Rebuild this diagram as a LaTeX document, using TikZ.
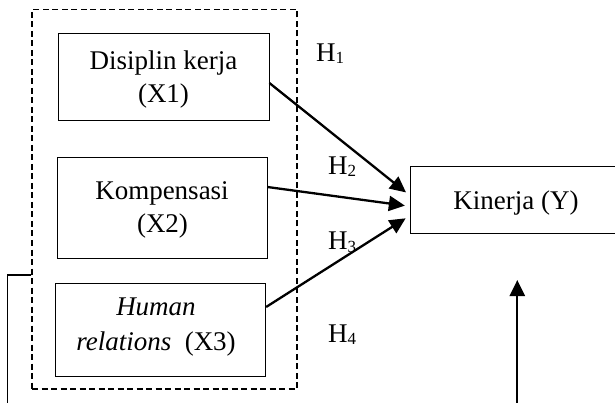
\documentclass[tikz,border=0pt]{standalone}
\usepackage{fontspec}
\setmainfont{Liberation Serif}
\usetikzlibrary{arrows.meta}
\newcommand\hsubscr[1]{\raisebox{-2pt}{\fontsize{17}{17}\selectfont #1}}
\begin{document}
\begin{tikzpicture}[x=1pt,y=-1pt,
  box/.style={draw, line width=0.8pt, inner sep=0pt},
  txt/.style={anchor=base, inner sep=0pt, font=\fontsize{27}{33}\selectfont},
  grp/.style={draw, dash pattern=on 6pt off 3.5pt, line width=1.4pt, inner sep=0pt},
  arr/.style={line width=2.3pt, -{Triangle[length=16pt,width=15pt]}},
  hlab/.style={anchor=base west, inner sep=0pt, font=\fontsize{27}{30}\selectfont},
  bline/.style={line width=1.5pt}]
\useasboundingbox (0,0) rectangle (615,403);
\node[grp, minimum width=265pt, minimum height=379.5pt] (grp) at (164.5,199.25) {};
\node[box, minimum width=210.5pt, minimum height=87pt] (x1) at (163.75,76.5) {};
\node[box, minimum width=210pt, minimum height=101pt] (x2) at (162,207.5) {};
\node[box, minimum width=210.7pt, minimum height=93pt] (x3) at (160.35,329.5) {};
\node[box, minimum width=206pt, minimum height=66.3pt] (y) at (513.7,199.85) {};
\node[txt] (t1a) at (163.5,70) {Disiplin kerja};
\node[txt] (t1b) at (163.5,103) {(X1)};
\node[txt] (t2a) at (162,200) {Kompensasi};
\node[txt] (t2b) at (162.5,233) {(X2)};
\node[txt] (t3a) at (156,315) {\textit{Human}};
\node[txt] (t3b) at (156,350) {\textit{relations}\ \ (X3)};
\node[txt] (ty) at (516,210) {Kinerja (Y)};
\draw[arr, shorten >=5.5pt] ([yshift=-6.5pt]x1.east) -- ([yshift=4pt]y.west);
\draw[arr, shorten >=5.5pt] ([yshift=20.5pt]x2.east) -- ([yshift=-6.5pt]y.west);
\draw[arr, shorten >=5.5pt] ([yshift=22.5pt]x3.east) -- ([yshift=-15.5pt]y.west);
\coordinate (vb) at (517.3,405);
\coordinate (vt) at (517.3,280);
\draw[arr] (vb) -- (vt);
\coordinate (bk1) at (7.5,275);
\coordinate (bk2) at (7.5,405);
\draw[bline] (grp.west |- bk1) -- (bk1) -- (bk2);
\node[hlab] (h1) at (316,62) {H\hsubscr{1}};
\node[hlab] (h2) at (328,175) {H\hsubscr{2}};
\node[hlab] (h3) at (328,250) {H\hsubscr{3}};
\node[hlab] (h4) at (328,342) {H\hsubscr{4}};
\end{tikzpicture}
\end{document}
